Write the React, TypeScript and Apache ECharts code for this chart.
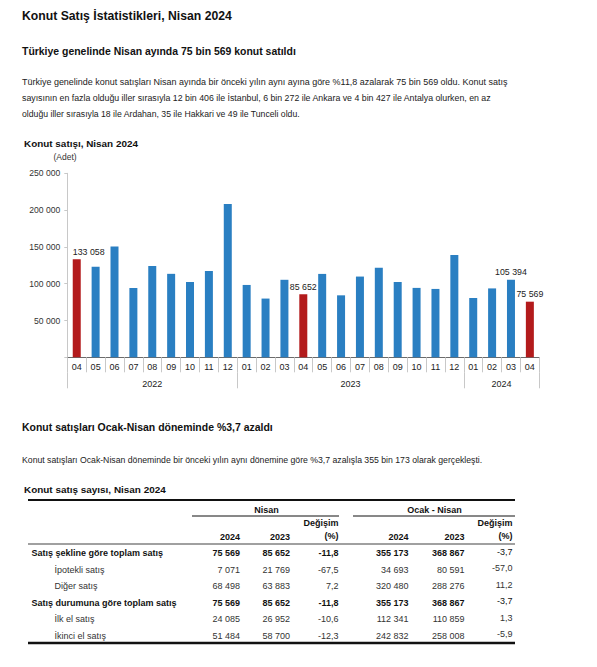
import React, { useEffect, useRef } from 'react';
import * as echarts from 'echarts';

// ---------- Data ----------
const months = ['04', '05', '06', '07', '08', '09', '10', '11', '12', '01', '02', '03', '04', '05', '06', '07', '08', '09', '10', '11', '12', '01', '02', '03', '04'];
const years = ['2022', '2023', '2024'];
const sales = [133058, 123000, 150500, 94200, 124100, 113400, 102300, 117400, 208400, 98300, 79800, 105300, 85652, 113300, 84200, 109700, 121800, 102300, 94300, 92900, 139100, 80600, 93600, 105394, 75569];
const highlightedIdx = [0, 12, 24];
const labeledIdx = [0, 12, 23, 24];
const yTicks = [0, 50000, 100000, 150000, 200000, 250000];

const rowLabels = ['Satış şekline göre toplam satış', 'İpotekli satış', 'Diğer satış', 'Satış durumuna göre toplam satış', 'İlk el satış', 'İkinci el satış'];
const boldRows = [0, 3];
const nisan2024 = [75569, 7071, 68498, 75569, 24085, 51484];
const nisan2023 = [85652, 21769, 63883, 85652, 26952, 58700];
const nisanChange = [-11.8, -67.5, 7.2, -11.8, -10.6, -12.3];
const ocak2024 = [355173, 34693, 320480, 355173, 112341, 242832];
const ocak2023 = [368867, 80591, 288276, 368867, 110859, 258008];
const ocakChange = [-3.7, -57.0, 11.2, -3.7, 1.3, -5.9];

const title = 'Konut Satış İstatistikleri, Nisan 2024';
const subtitle1 = 'Türkiye genelinde Nisan ayında 75 bin 569 konut satıldı';
const para1 = [
  'Türkiye genelinde konut satışları Nisan ayında bir önceki yılın aynı ayına göre %11,8 azalarak 75 bin 569 oldu. Konut satış',
  'sayısının en fazla olduğu iller sırasıyla 12 bin 406 ile İstanbul, 6 bin 272 ile Ankara ve 4 bin 427 ile Antalya olurken, en az',
  'olduğu iller sırasıyla 18 ile Ardahan, 35 ile Hakkari ve 49 ile Tunceli oldu.',
];
const chartTitle = 'Konut satışı, Nisan 2024';
const unitLabel = '(Adet)';
const subtitle2 = 'Konut satışları Ocak-Nisan döneminde %3,7 azaldı';
const para2 = 'Konut satışları Ocak-Nisan döneminde bir önceki yılın aynı dönemine göre %3,7 azalışla 355 bin 173 olarak gerçekleşti.';
const tableTitle = 'Konut satış sayısı, Nisan 2024';
const groupHeaders = ['Nisan', 'Ocak - Nisan'];
const colYears = ['2024', '2023'];
const changeHeader = ['Değişim', '(%)'];

// ---------- Helpers ----------
const FF = '"Liberation Sans", Arial, sans-serif';
const fmtInt = (n: number) => String(n).replace(/\B(?=(\d{3})+(?!\d))/g, ' ');
const fmtDec = (n: number) => n.toFixed(1).replace('.', ',');

let ctx: CanvasRenderingContext2D | null = null;
function fitSize(text: string, bold: boolean, targetWidth: number, fallback: number) {
  try {
    if (!ctx) ctx = document.createElement('canvas').getContext('2d');
    if (!ctx) return fallback;
    ctx.font = `${bold ? 'bold ' : ''}20px ${FF}`;
    const w = ctx.measureText(text).width;
    if (!w) return fallback;
    const s = (20 * targetWidth) / w;
    return Math.max(fallback * 0.9, Math.min(fallback * 1.1, s));
  } catch (e) {
    return fallback;
  }
}

function txt(text: string, x: number, y: number, size: number, bold = false, align = 'left', color = '#111') {
  return {
    type: 'text',
    x,
    y,
    silent: true,
    style: {
      text,
      font: `${bold ? 'bold ' : ''}${size.toFixed(2)}px ${FF}`,
      fill: color,
      align,
      verticalAlign: 'middle',
      textAlign: align,
      textVerticalAlign: 'middle',
    },
  };
}
function hline(x1: number, x2: number, y: number, w: number, color: string) {
  return { type: 'line', silent: true, shape: { x1, y1: y, x2, y2: y }, style: { stroke: color, lineWidth: w } };
}

export default function App() {
  const ref = useRef<HTMLDivElement>(null);
  useEffect(() => {
    if (!ref.current) return;
    const chart = echarts.init(ref.current, undefined, { renderer: 'svg' });

    // year groups derived from months: a new year starts at '01'
    const bounds: number[] = [0];
    months.forEach((m, i) => { if (i > 0 && m === '01') bounds.push(i); });
    bounds.push(months.length);
    const centers = years.map((_, i) => (bounds[i] + bounds[i + 1]) / 2);

    const barData = sales.map((v, i) => ({
      value: v,
      itemStyle: { color: highlightedIdx.includes(i) ? '#b31b1c' : '#2a7fc2' },
      label: labeledIdx.includes(i)
        ? { show: true, position: 'top', distance: 3, offset: i === 0 ? [12, 0] : [0, 0] }
        : { show: false },
    }));

    const graphics: any[] = [];
    graphics.push(txt(title, 22, 16, fitSize(title, true, 210, 12.3), true));
    graphics.push(txt(subtitle1, 22, 51, fitSize(subtitle1, true, 274, 10.5), true));
    const paraW = [486, 470, 279];
    para1.forEach((l, i) => graphics.push(txt(l, 22, 82 + i * 16, fitSize(l, false, paraW[i], 9), false, 'left', '#222')));
    graphics.push(txt(chartTitle, 24, 143.5, fitSize(chartTitle, true, 114, 9.8), true));
    graphics.push(txt(unitLabel, 65, 156.5, 8.5, false, 'center', '#333'));
    graphics.push(txt(subtitle2, 22, 427, fitSize(subtitle2, true, 251, 10.5), true));
    graphics.push(txt(para2, 22, 460, fitSize(para2, false, 461, 9), false, 'left', '#222'));
    graphics.push(txt(tableTitle, 24, 489.5, fitSize(tableTitle, true, 142, 9.8), true));

    // table
    const L = 28, R = 515;
    graphics.push(hline(L, R, 500, 2, '#111'));
    graphics.push(hline(192, 339, 516, 1, '#111'));
    graphics.push(hline(353, R, 516, 1, '#111'));
    graphics.push(hline(L, R, 544, 2, '#a0a0a0'));
    graphics.push(hline(L, R, 643, 2.5, '#111'));
    graphics.push(txt(groupHeaders[0], 266.5, 509.5, 9, true, 'center'));
    graphics.push(txt(groupHeaders[1], 434.5, 509.5, 9, true, 'center'));
    const colX = [240, 290, 338.5, 408.5, 464.5, 512.5];
    graphics.push(txt(colYears[0], colX[0], 537, 9, true, 'right'));
    graphics.push(txt(colYears[1], colX[1], 537, 9, true, 'right'));
    graphics.push(txt(changeHeader[0], colX[2], 523, 9, true, 'right'));
    graphics.push(txt(changeHeader[1], colX[2], 536, 9, true, 'right'));
    graphics.push(txt(colYears[0], colX[3], 537, 9, true, 'right'));
    graphics.push(txt(colYears[1], colX[4], 537, 9, true, 'right'));
    graphics.push(txt(changeHeader[0], colX[5], 523, 9, true, 'right'));
    graphics.push(txt(changeHeader[1], colX[5], 536, 9, true, 'right'));
    const rowY = [553, 569.5, 586, 602.5, 619, 635.5];
    rowLabels.forEach((lab, r) => {
      const b = boldRows.includes(r);
      const y = rowY[r];
      const c = b ? '#111' : '#333';
      graphics.push(txt(lab, b ? 31.5 : 54.5, y, 9, b, 'left', c));
      graphics.push(txt(fmtInt(nisan2024[r]), colX[0], y, 9, b, 'right', c));
      graphics.push(txt(fmtInt(nisan2023[r]), colX[1], y, 9, b, 'right', c));
      graphics.push(txt(fmtDec(nisanChange[r]), colX[2], y, 9, b, 'right', c));
      graphics.push(txt(fmtInt(ocak2024[r]), colX[3], y, 9, b, 'right', c));
      graphics.push(txt(fmtInt(ocak2023[r]), colX[4], y, 9, b, 'right', c));
      graphics.push(txt(fmtDec(ocakChange[r]), colX[5], y - 1.5, 9, false, 'right', c));
    });

    const yearMap: Record<string, string> = {};
    centers.forEach((c, i) => { yearMap[String(c)] = years[i]; });

    chart.setOption({
      animation: false,
      backgroundColor: '#ffffff',
      textStyle: { fontFamily: FF },
      grid: { left: 67.3, right: 57.7, top: 173.3, bottom: 309.7, containLabel: false },
      xAxis: [
        {
          type: 'category',
          data: months,
          boundaryGap: true,
          axisLine: { show: true, lineStyle: { color: '#6a6a6a', width: 1 } },
          axisTick: { show: true, alignWithLabel: false, length: 15, lineStyle: { color: '#c8c8c8' } },
          axisLabel: { show: true, interval: 0, margin: 5, fontSize: 9, color: '#222', fontFamily: FF },
          splitLine: { show: false },
        },
        {
          type: 'value',
          position: 'bottom',
          offset: 15,
          min: 0,
          max: months.length,
          axisLine: { show: false },
          axisTick: { show: true, customValues: bounds, length: 16, lineStyle: { color: '#c8c8c8' } },
          axisLabel: {
            show: true,
            customValues: centers,
            margin: 7,
            fontSize: 9,
            color: '#222',
            fontFamily: FF,
            formatter: (v: number) => yearMap[String(v)] ?? '',
          },
          splitLine: { show: false },
        },
      ],
      yAxis: {
        type: 'value',
        min: yTicks[0],
        max: yTicks[yTicks.length - 1],
        interval: yTicks[1] - yTicks[0],
        axisLine: { show: true, lineStyle: { color: '#c8c8c8' } },
        axisTick: { show: true, length: 3, lineStyle: { color: '#c8c8c8' } },
        axisLabel: {
          margin: 7,
          fontSize: 8.6,
          color: '#333',
          fontFamily: FF,
          formatter: (v: number) => (v === 0 ? '' : fmtInt(v)),
        },
        splitLine: { show: false },
      },
      series: [
        {
          type: 'bar',
          xAxisIndex: 0,
          yAxisIndex: 0,
          barWidth: 8,
          data: barData,
          label: {
            fontSize: 8.8,
            color: '#222',
            fontFamily: FF,
            formatter: (p: any) => fmtInt(p.value),
          },
        },
      ],
      graphic: { elements: graphics },
    });
    return () => chart.dispose();
  }, []);
  return <div ref={ref} style={{ position: 'fixed', left: 0, top: 0, width: 597, height: 667, background: '#fff' }} />;
}
